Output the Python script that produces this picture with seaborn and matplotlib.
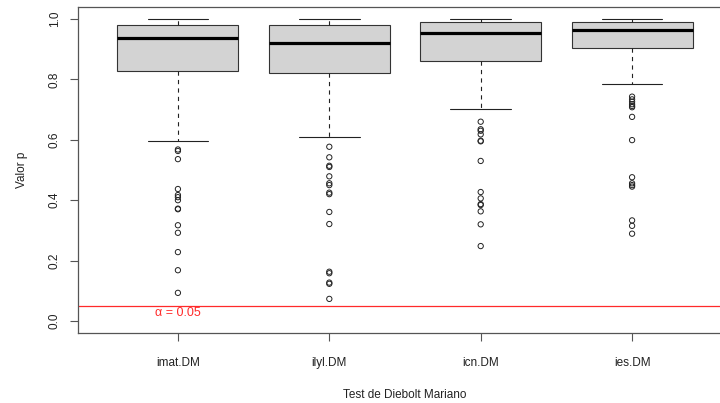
import matplotlib
matplotlib.use("Agg")
import matplotlib.pyplot as plt
import pandas as pd
import seaborn as sns

# five-number summaries: lower whisker, Q1, median, Q3, upper whisker
tests = ["imat.DM", "ilyl.DM", "icn.DM", "ies.DM"]
imat_box = [0.596, 0.828, 0.938, 0.982, 1.0]
ilyl_box = [0.610, 0.821, 0.922, 0.979, 1.0]
icn_box = [0.701, 0.861, 0.954, 0.990, 1.0]
ies_box = [0.784, 0.904, 0.965, 0.990, 1.0]

# points outside the whiskers
imat_out = [0.568, 0.563, 0.536, 0.437, 0.417, 0.410, 0.400, 0.372, 0.370,
            0.317, 0.292, 0.228, 0.168, 0.093]
ilyl_out = [0.577, 0.542, 0.514, 0.510, 0.479, 0.456, 0.450, 0.425, 0.420,
            0.361, 0.321, 0.163, 0.158, 0.127, 0.123, 0.073]
icn_out = [0.660, 0.635, 0.630, 0.618, 0.597, 0.595, 0.530, 0.427, 0.406,
           0.387, 0.384, 0.363, 0.320, 0.248]
ies_out = [0.743, 0.734, 0.726, 0.718, 0.712, 0.708, 0.676, 0.599, 0.476,
           0.456, 0.450, 0.445, 0.333, 0.315, 0.289]

alpha = 0.05

box_df = pd.DataFrame({
    "test": [t for t, vals in zip(tests, [imat_box, ilyl_box, icn_box, ies_box]) for _ in vals],
    "p": imat_box + ilyl_box + icn_box + ies_box,
})
out_df = pd.DataFrame({
    "test": [t for t, vals in zip(tests, [imat_out, ilyl_out, icn_out, ies_out]) for _ in vals],
    "p": imat_out + ilyl_out + icn_out + ies_out,
})

sns.set_theme(style="ticks")
plt.rcParams["font.family"] = ["Liberation Sans", "DejaVu Sans"]
edge = "#555555"
plt.rcParams.update({
    "axes.edgecolor": edge,
    "axes.linewidth": 0.9,
    "xtick.color": edge,
    "ytick.color": edge,
    "xtick.labelcolor": "#222222",
    "ytick.labelcolor": "#222222",
    "xtick.major.size": 5.5,
    "ytick.major.size": 5.5,
    "xtick.major.width": 0.8,
    "ytick.major.width": 0.8,
})

fig = plt.figure(figsize=(7.2, 4.03), dpi=100)
ax = fig.add_axes([78 / 720, 1 - 333 / 403, 654 / 720, 326 / 403])

sns.boxplot(
    data=box_df, x="test", y="p", order=tests, ax=ax,
    whis=(0, 100), width=0.8, color="#D3D3D3", linecolor="#333333",
    linewidth=0.8, showfliers=False,
    medianprops=dict(linewidth=2.3, color="black"),
    whiskerprops=dict(linestyle=(0, (3.8, 3.8)), color="#222222"),
    capprops=dict(color="#222222"),
)
n_before = len(ax.collections)
sns.stripplot(
    data=out_df, x="test", y="p", order=tests, ax=ax,
    jitter=False, size=3.8, color="white", edgecolor="#222222", linewidth=0.7,
)
for coll in ax.collections[n_before:]:
    coll.set_facecolor("none")

ax.axhline(alpha, color="#FF2A2A", linewidth=0.9)
ax.text(0, 0.027, "α = 0.05", color="#FF2A2A", fontsize=9, ha="center", va="center")

ax.set_xlim(-0.66, 3.66)
ax.set_ylim(-0.04, 1.04)
ax.set_yticks([0.0, 0.2, 0.4, 0.6, 0.8, 1.0])
ax.set_yticklabels(["0.0", "0.2", "0.4", "0.6", "0.8", "1.0"], rotation=90, va="center")
ax.tick_params(axis="both", labelsize=8.5)
ax.tick_params(axis="x", pad=12)
ax.tick_params(axis="y", pad=7)
ax.set_xlabel("Test de Diebolt Mariano", fontsize=8.5, color="#222222", labelpad=14)
ax.set_ylabel("Valor p", fontsize=8.5, color="#222222", labelpad=15)
for side in ["top", "right", "left", "bottom"]:
    ax.spines[side].set_visible(True)

fig.savefig("out.png", dpi=100)
